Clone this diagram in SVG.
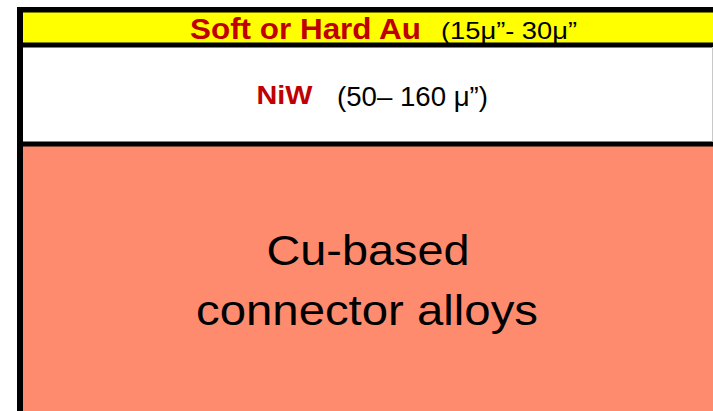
<svg xmlns="http://www.w3.org/2000/svg" width="713" height="411" viewBox="0 0 713 411">
<style>
.bar{fill:#000}
.t{font-family:"Liberation Sans",Arial,sans-serif}
.red{fill:#C00000;font-weight:bold}
.blk{fill:#000}
</style>
<rect x="0" y="0" width="713" height="411" fill="#fff"/>
<g id="au-layer">
<rect x="20" y="12" width="693" height="31" fill="#FFFF00"/>
<text class="t red" x="190" y="38.5" font-size="29" textLength="231" lengthAdjust="spacingAndGlyphs">Soft or Hard Au</text>
<text class="t blk" x="441" y="38.5" font-size="24" textLength="136" lengthAdjust="spacingAndGlyphs">(15μ”- 30μ”</text>
</g>
<g id="niw-layer">
<rect x="20" y="47" width="693" height="95" fill="#fff"/>
<text class="t red" x="256.5" y="104" font-size="25" textLength="56" lengthAdjust="spacingAndGlyphs">NiW</text>
<text class="t blk" x="337" y="105.5" font-size="27" textLength="151" lengthAdjust="spacingAndGlyphs">(50– 160 μ”)</text>
</g>
<g id="cu-layer">
<rect x="20" y="146" width="693" height="265" fill="#FF8B6E"/>
<text class="t blk" x="266.5" y="264.5" font-size="43" textLength="203" lengthAdjust="spacingAndGlyphs">Cu-based</text>
<text class="t blk" x="196" y="325" font-size="43" textLength="342" lengthAdjust="spacingAndGlyphs">connector alloys</text>
</g>
<g id="borders">
<rect class="bar" x="17" y="7" width="696" height="5.5"/>
<rect class="bar" x="17" y="42.5" width="696" height="5"/>
<rect class="bar" x="17" y="141.5" width="696" height="5"/>
<rect class="bar" x="17" y="7" width="6" height="404"/>
<line x1="712.5" y1="47" x2="712.5" y2="141.5" stroke="#c8c8c8" stroke-width="1"/>
</g>
</svg>
